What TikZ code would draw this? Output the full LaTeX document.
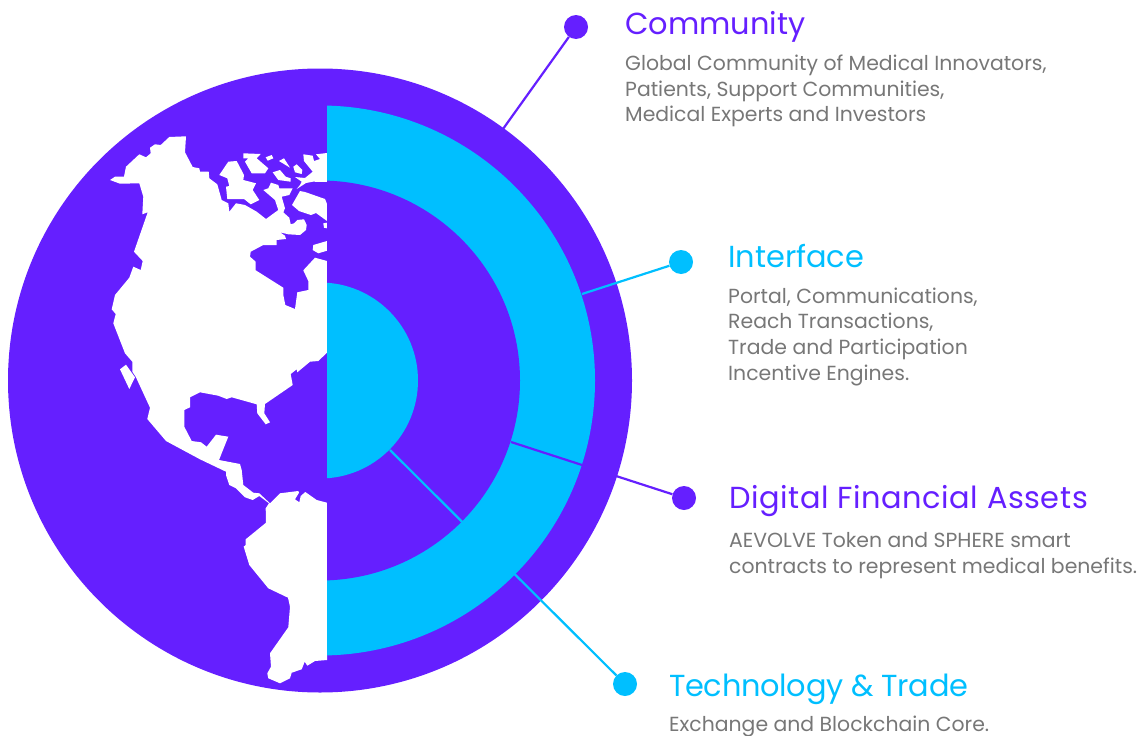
\documentclass[tikz,border=0pt]{standalone}
\usepackage{fontspec}
\setmainfont{Poppins}
\definecolor{vio}{HTML}{651FFF}
\definecolor{sky}{HTML}{00BFFF}
\definecolor{txt}{HTML}{777777}
\tikzset{
  land/.style={fill=white,draw=none},
  dotv/.style={circle,fill=vio,draw=none,minimum size=24pt,inner sep=0pt},
  dots/.style={circle,fill=sky,draw=none,minimum size=24pt,inner sep=0pt},
  linkv/.style={draw=vio,line width=2.2pt},
  links/.style={draw=sky,line width=2.2pt},
  headv/.style={anchor=base west,inner sep=0pt,text=vio,font=\fontsize{30.4}{30.4}\selectfont},
  heads/.style={anchor=base west,inner sep=0pt,text=sky,font=\fontsize{30.4}{30.4}\selectfont},
  body/.style={anchor=base west,inner sep=0pt,text=txt,font=\fontsize{20.4}{20.4}\selectfont},
}
\begin{document}
\begin{tikzpicture}[x=1pt,y=-1pt]
\useasboundingbox (0,0) rectangle (1143,736);
% globe
\fill[vio] (320,380.5) circle[radius=312];
% mainland of the Americas
\fill[land] (110,180)--(115,176.7)--(124,176.7)--(126,166.7)--(139.3,154.3)--(146,157.3)--(150.7,153.3)--(150,147.7)--(155,144.3)--(160.7,145)--(169.3,137)--(186,136.3)--(185,152.3)--(192.7,167)--(199.3,168.3)--(200,171.7)--(208.7,171.7)--(209.3,178.3)--(217.3,184.3)--(221.7,200)--(228.3,203.3)--(229.3,211.7)--(236,203.3)--(245,205)--(256.7,211.7)--(266,219)--(278.3,210)--(275,200)--(263.3,190)--(268.3,188.3)--(271,182.7)--(278.3,185)--(279.3,188.3)--(292.7,188.3)--(289.3,195)--(281.7,196.7)--(285,208.3)--(283.3,212.3)--(289.3,217.7)--(290.7,224.3)--(294,223.3)--(297.3,220)--(304,219.3)--(306.7,225)--(306,230)--(300,235)--(288.3,234.3)--(280,232.3)--(285,235.7)--(286,239)--(276.7,240)--(276.7,245)--(263.3,245)--(250.7,251.7)--(250,256.7)--(255.7,261.7)--(255.7,270.3)--(283.3,287.7)--(283.3,295)--(285.3,305)--(295,309)--(297.3,292.3)--(308.3,290)--(308.3,281)--(303.3,270.3)--(315,257.7)--(327,261)--(327,352.7)--(318.3,361)--(310,361.7)--(297.3,372.3)--(296.7,369.3)--(290.7,374)--(292.7,385)--(265,404)--(264.3,413.3)--(270,422.3)--(265.7,424.3)--(257.3,413.3)--(256.7,404.3)--(231.7,397.3)--(226.7,399)--(218.3,395.7)--(200,392.3)--(190,397.3)--(190,407.3)--(184.3,410)--(184.3,426.7)--(191.7,441)--(201,442.3)--(206.7,446.7)--(216,434.7)--(228.3,436.7)--(219,460)--(240,464)--(241.7,470)--(243.3,485)--(253.3,492.7)--(259.3,493.3)--(270,503.3)--(280,493.3)--(298.3,491)--(299,492.7)--(295,499.3)--(299.3,502.3)--(300.7,496)--(305.3,492)--(316.7,500)--(327,502.7)--(327,660)--(315,661)--(307.3,665.7)--(304.7,661.7)--(301.7,669.3)--(291.7,672.7)--(290,678.3)--(280,683.3)--(268.3,678.3)--(267.3,673.3)--(271,666.7)--(270,653.3)--(288.3,627.3)--(290,606.7)--(288,597.7)--(268.3,588.3)--(249.3,565)--(243.7,546.7)--(245.7,545)--(245.7,539.3)--(266,522.7)--(265.7,508.3)--(269,503.3)--(259.3,496)--(252.7,500)--(245,497.3)--(236,488.3)--(229.3,485)--(226,475)--(226,471.7)--(200,459.3)--(166,441)--(147.3,419)--(150,407.7)--(135.7,376.7)--(132.3,371.7)--(132.3,361.7)--(125,353.3)--(113.3,323.3)--(115.7,314)--(111.7,309.3)--(115,295)--(129.3,277.7)--(133.3,266.7)--(140.7,270)--(142.7,261)--(134,251.7)--(147.7,212.3)--(142.3,214.3)--(143.3,196.7)--(139.3,183.3)--(120,183.7)--cycle;
% Baja
\fill[land] (120,369.3)--(126,364.7)--(135,377.3)--(129.3,389)--cycle;
% arctic islands
\fill[land] (219.3,175)--(228.3,161.7)--(236.7,161)--(244,175)--(243.3,180)--(256,183.3)--(252.7,190)--(259.3,200)--(250.7,204.3)--(244,199)--(227.3,199)--(226,186.7)--(229.3,186)--(227.3,178.3)--cycle;
\fill[land] (243.3,153.3)--(260.7,154)--(256.7,158.3)--(268.3,168.3)--(265,173.3)--(251.7,173.3)--(245,161.7)--(248.3,158.3)--(243.3,158.3)--cycle;
\fill[land] (265.7,157.3)--(271.7,155)--(273.3,158.3)--(267.7,160.7)--cycle;
\fill[land] (279,161)--(284,158.3)--(290,167.7)--cycle;
\fill[land] (293.3,166.7)--(296.7,164.3)--(302.3,170)--(301.7,174)--(295,172.3)--cycle;
\fill[land] (272.7,172.3)--(280,170)--(285.7,176.7)--(290.7,178.3)--(290.7,181.7)--(278.3,180)--cycle;
\fill[land] (303.3,154.3)--(312.7,155.7)--(314,161)--(320,159)--(316,154.3)--(327,153)--(327,182)--(313,181.7)--(306,183)--(296.7,189)--(300,185)--(301.7,181.7)--(295,177)--(305,178)--(312.7,171.7)--(304,161)--cycle;
\fill[land] (292,205)--(300,191)--(305,192)--(325,199)--(327,204)--(327,221)--(316,213)--(311,215)--(299,211)--cycle;
\fill[land] (323.3,223.3)--(327,222.7)--(327,228.3)--(324,227.7)--cycle;
\fill[land] (313.3,245)--(327,241)--(327,250.7)--(318.3,253.3)--(312.7,250)--cycle;
% right half: rings
\begin{scope}
\clip (327,0) rectangle (700,736);
\fill[sky] (320,380.5) circle[radius=275];
\fill[vio] (320,380.5) circle[radius=200];
\fill[sky] (320,380.5) circle[radius=98];
\end{scope}
% anchors of the connectors
\coordinate (cEnd) at (503,129);
\coordinate (iEnd) at (582,294);
\coordinate (dEnd) at (511,442);
\coordinate (tEnd) at (390,450);
% dots
\node[dotv] (cDot) at (576,27) {};
\node[dots] (iDot) at (681,262) {};
\node[dotv] (dDot) at (684,498) {};
\node[dots] (tDot) at (625,684) {};
% connectors
\draw[linkv] (cDot) -- (cEnd);
\draw[links] (iDot) -- (iEnd);
\draw[linkv] (dDot) -- (dEnd);
\draw[links] (tDot) -- (tEnd);
% texts
\node[headv] (cH) at (625,34) {Community};
\node[body] (c1) at (625,70) {Global Community of Medical Innovators,};
\node[body] (c2) at (625,96) {Patients, Support Communities,};
\node[body] (c3) at (625,121) {Medical Experts and Investors};
\node[heads] (iH) at (728,267) {Interface};
\node[body] (i1) at (728,303) {Portal, Communications,};
\node[body] (i2) at (728,328) {Reach Transactions,};
\node[body] (i3) at (728,354) {Trade and Participation};
\node[body] (i4) at (728,380) {Incentive Engines.};
\node[headv] (dH) at (729,508) {\addfontfeature{LetterSpace=1.9}Digital Financial Assets};
\node[body] (d1) at (729,547) {AEVOLVE Token and SPHERE smart};
\node[body] (d2) at (729,573) {contracts to represent medical benefits.};
\node[heads] (tH) at (669,696) {\addfontfeature{LetterSpace=-0.9}Technology \& Trade};
\node[body] (t1) at (669,731) {Exchange and Blockchain Core.};
\end{tikzpicture}
\end{document}
